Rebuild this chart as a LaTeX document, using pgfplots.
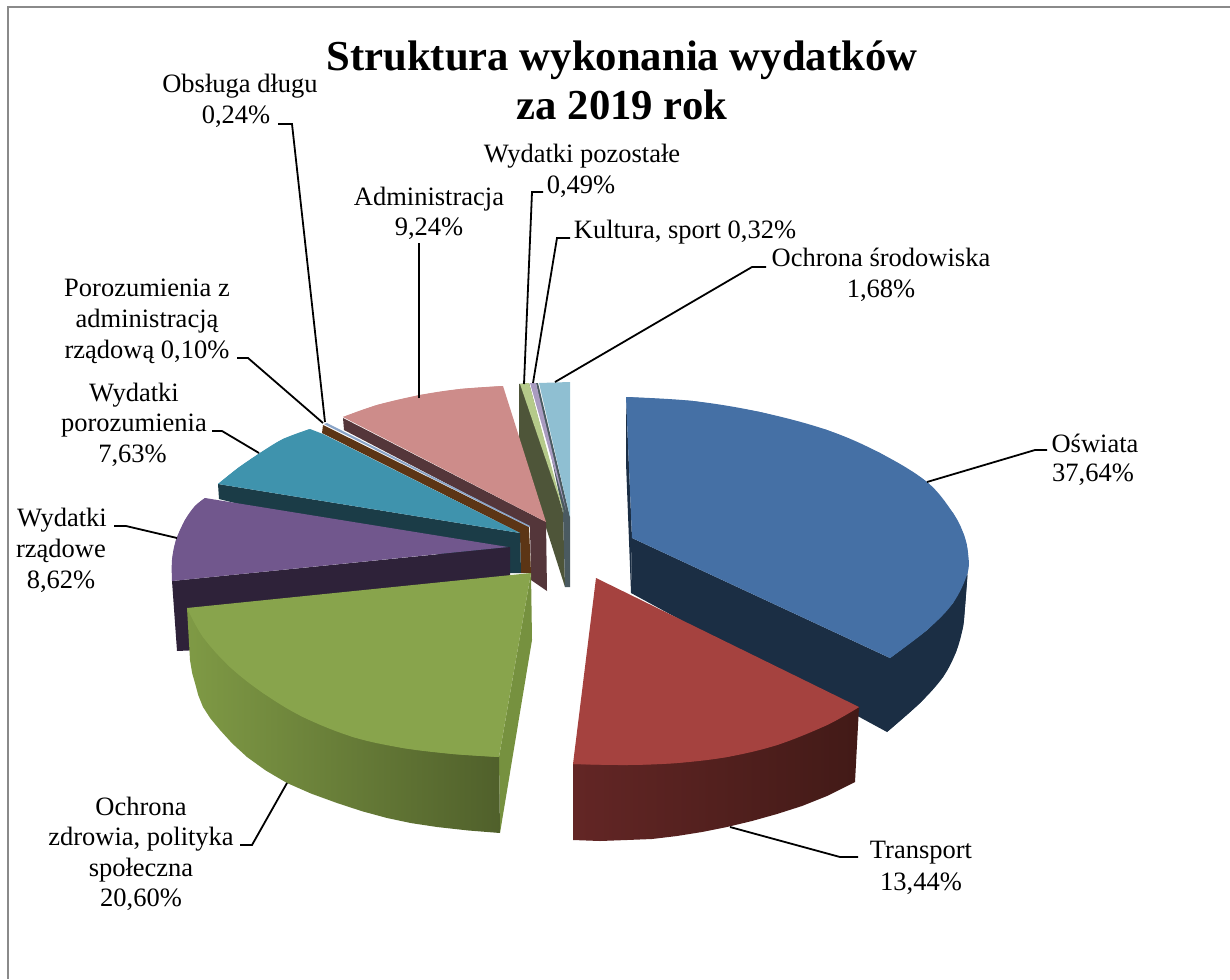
\documentclass[border=0pt]{standalone}
\usepackage{pgfplots}
\usepackage{fontspec}
\setmainfont{Liberation Serif}
\pgfplotsset{compat=1.18}
\definecolor{bluetop}{HTML}{4570A5}
\definecolor{bluedark}{HTML}{1B2E44}
\definecolor{redtop}{HTML}{A5423F}
\definecolor{redL}{HTML}{632625}
\definecolor{redR}{HTML}{421A17}
\definecolor{greentop}{HTML}{88A44C}
\definecolor{greenL}{HTML}{7F9A45}
\definecolor{greenR}{HTML}{50602B}
\definecolor{greenside}{HTML}{76913F}
\definecolor{purpletop}{HTML}{71578D}
\definecolor{purpledark}{HTML}{2E2239}
\definecolor{tealtop}{HTML}{3F93AD}
\definecolor{tealdark}{HTML}{1B3C47}
\definecolor{brownw}{HTML}{5C3515}
\definecolor{lightblue}{HTML}{8AA5C8}
\definecolor{pinktop}{HTML}{CD8C8A}
\definecolor{pinkdark}{HTML}{54363A}
\definecolor{olive}{HTML}{4E5539}
\definecolor{lgreen}{HTML}{B5CA8A}
\definecolor{lpurple}{HTML}{A99BC0}
\definecolor{lblue}{HTML}{8FBFD2}
\definecolor{slate}{HTML}{4A5A60}
\definecolor{framec}{HTML}{8A8A8A}
\newcommand{\lab}[3]{\node[anchor=base,inner sep=0pt,font=\fontsize{26.5}{30}\selectfont] at (axis cs:#1,#2) {#3};}
\pgfplotsset{S/.style={smooth,tension=0.6,draw=none},P/.style={draw=none},L/.style={black,line width=1.8pt}}
\begin{document}
\begin{tikzpicture}
\begin{axis}[
  at={(0,0)}, anchor=south west,
  scale only axis, width=1230pt, height=979pt,
  xmin=0, xmax=1230, ymin=0, ymax=979, y dir=reverse,
  hide axis]
\path (axis cs:0,0) rectangle (axis cs:1230,979);
% frame
\addplot[draw=framec, line width=2pt] coordinates {(7.5,979) (7.5,7.5) (1230,7.5)};
% small slices, back
\addplot[P, fill=olive] coordinates {(519,384) (519,443) (565,587) (563,513) (529,383)} --cycle;
\addplot[P, fill=slate] coordinates {(536,383) (538,383) (570,517) (570,587) (565,587) (563,513)} --cycle;
\addplot[P, fill=lgreen] coordinates {(520,384) (529,383) (564,513)} --cycle;
\addplot[P, fill=lpurple] coordinates {(530,383) (536,383) (566,510)} --cycle;
\addplot[P, fill=lblue] coordinates {(539,383) (570,382) (570,517)} --cycle;
% pink
\addplot[P, fill=pinkdark] coordinates {(343,418) (344,430) (530,527) (531,580) (547,591) (546,522)} --cycle;
\addplot[P, fill=pinktop] coordinates {(546,522) (343,417) (377,405) (420,395) (460,389) (503,386)} --cycle;
\addplot[S, fill=pinktop] coordinates {(343,417) (377,405) (420,395) (460,389) (503,386)};
% brown
\addplot[P, fill=brownw] coordinates {(322,433) (323,425) (529,527) (531,573) (521,573) (520,533)} --cycle;
\addplot[P, fill=lightblue] coordinates {(324,424) (327,423) (530,526) (529,527)} --cycle;
% teal
\addplot[P, fill=tealdark] coordinates {(218,484) (219,499) (510,573) (521,573) (520,533)} --cycle;
\addplot[P, fill=tealtop] coordinates {(520,533) (218,484) (238,468) (260,453) (283,439) (310,429) (323,434)} --cycle;
\addplot[S, fill=tealtop] coordinates {(218,484) (238,468) (260,453) (283,439) (310,429)};
% purple
\addplot[P, fill=purpledark] coordinates {(172,581) (177,651) (200,650) (510,590) (510,547)} --cycle;
\addplot[P, fill=purpletop] coordinates {(508,547) (205,498) (195,506) (185,520) (176,540) (172,560) (172,581)} --cycle;
\addplot[S, fill=purpletop] coordinates {(205,498) (195,506) (185,520) (176,540) (172,560) (172,581)};
% green
\addplot[P, fill=greenside] coordinates {(531,573) (532,640) (500,833) (499,757)} --cycle;
\addplot[P, left color=greenL, right color=greenR] coordinates {(499,757) (187,608) (190,660) (192.2,673.3) (195,683) (198.2,695) (203,707) (210.3,718.3) (220,730) (232.1,743.3) (247,757) (265.6,770.4) (287,783) (311.4,793.7) (337,803) (362,811.2) (387,818) (411.2,823.1) (437,827) (468.5,830.5) (500,833)} --cycle;
\addplot[P, fill=greentop] coordinates {(531,573) (187,608) (203,637) (230,667) (263,693) (303,717) (353,737) (403,748) (453,754) (499,757)} --cycle;
\addplot[S, fill=greentop] coordinates {(187,608) (203,637) (230,667) (263,693) (303,717) (353,737) (403,748) (453,754) (499,757)};
% blue
\addplot[P, fill=bluedark] coordinates {(626,397) (626,463) (631,593) (632,538)} --cycle;
\addplot[P, fill=bluedark] coordinates {(632,538) (890,658) (927,630) (953,603) (967.5,573) (965,607) (963,627) (956,652) (943,677) (920,703) (887,732) (631,593)} --cycle;
\addplot[S, fill=bluedark] coordinates {(967.5,575) (965,607) (963,627) (956,652) (943,677) (920,703) (887,732)};
\addplot[P, fill=bluetop] coordinates {(632,538) (626,397) (693,401) (760,412) (827,430) (880,453) (927,482) (953,513) (964,535) (968,553) (967.5,573) (953,603) (927,630) (890,658)} --cycle;
\addplot[S, fill=bluetop] coordinates {(626,397) (693,401) (760,412) (827,430) (880,453) (927,482) (953,513) (964,535) (968,553) (967.5,573) (953,603) (927,630) (890,658)};
% red
\addplot[P, left color=redL, right color=redR] coordinates {(573,764) (573,840) (600,841) (627,840) (652,839) (677,836) (702,832) (727,827) (752,821) (777,814) (802,806) (827,796) (855,782) (859,707)} --cycle;
\addplot[P, fill=redtop] coordinates {(596,578) (859,707) (827,725) (777,745) (727,757) (677,763) (627,765) (573,764)} --cycle;
\addplot[S, fill=redtop] coordinates {(859,707) (827,725) (777,745) (727,757) (677,763) (627,765) (573,764)};
% leader lines
\addplot[L] coordinates {(927,482) (1035,450) (1047,450)};
\addplot[L] coordinates {(730,827) (840,857) (858,857)};
\addplot[L] coordinates {(287,783) (252,845) (240,845)};
\addplot[L] coordinates {(177,538) (126,526) (114,526)};
\addplot[L] coordinates {(259,453) (222,431) (212,431)};
\addplot[L] coordinates {(323,423) (248,358) (237,358)};
\addplot[L] coordinates {(325,422) (292,124) (278,124)};
\addplot[L] coordinates {(419,398) (419,243)};
\addplot[L] coordinates {(524,384) (532,192) (543,192)};
\addplot[L] coordinates {(533,383) (557,238) (570,238)};
\addplot[L] coordinates {(555,382) (752,267) (766,267)};
% title
\node[anchor=base,inner sep=0pt,font=\fontsize{42.7}{48}\selectfont\bfseries] at (axis cs:622,71) {Struktura wykonania wydatków};
\node[anchor=base,inner sep=0pt,font=\fontsize{42.7}{48}\selectfont\bfseries] at (axis cs:622,119) {za 2019 rok};
% labels
\lab{240}{93}{Obsługa długu}
\lab{236}{124}{0,24\%}
\lab{429}{205}{Administracja}
\lab{429}{235}{9,24\%}
\lab{582}{162}{Wydatki pozostałe}
\lab{581}{193}{0,49\%}
\lab{685}{238}{Kultura, sport 0,32\%}
\lab{881}{266}{Ochrona środowiska}
\lab{881}{297}{1,68\%}
\lab{147}{296}{Porozumienia z}
\lab{147}{327}{administracją}
\lab{147}{358}{rządową 0,10\%}
\lab{134}{401}{Wydatki}
\lab{134}{431}{porozumienia}
\lab{132.5}{462}{7,63\%}
\lab{62}{526}{Wydatki}
\lab{61}{557}{rządowe}
\lab{61}{588}{8,62\%}
\lab{141}{815}{Ochrona}
\lab{141}{845}{zdrowia, polityka}
\lab{141}{876}{społeczna}
\lab{141}{906}{20,60\%}
\lab{921}{858}{Transport}
\lab{921}{890}{13,44\%}
\lab{1095}{452}{Oświata}
\lab{1093}{481}{37,64\%}
\end{axis}
\end{tikzpicture}
\end{document}
